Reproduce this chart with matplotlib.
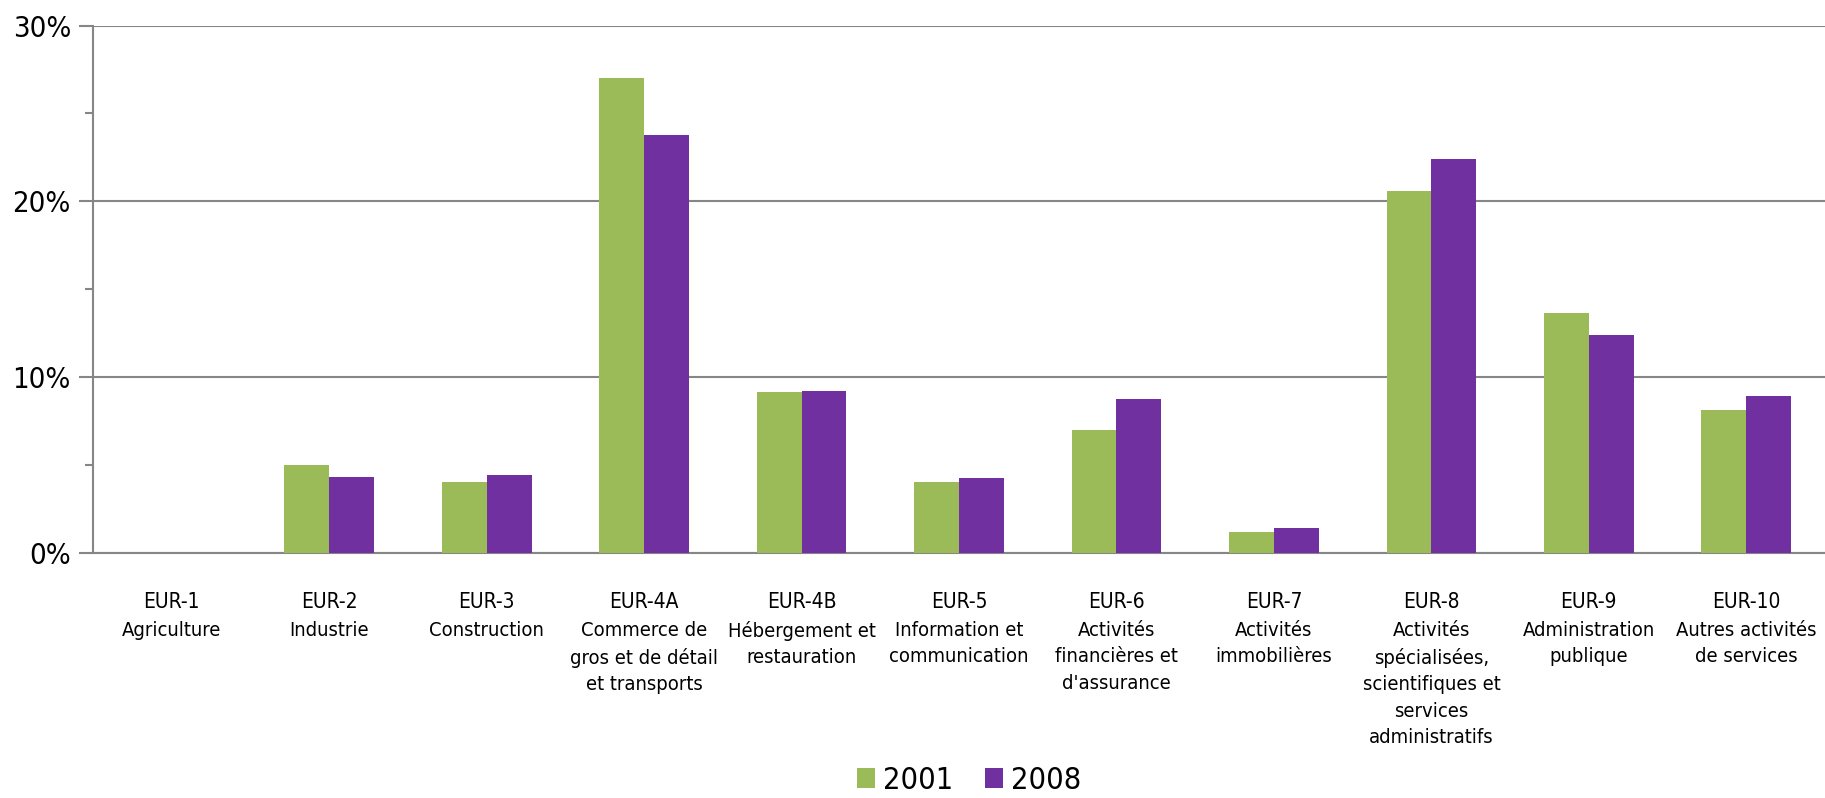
import matplotlib
matplotlib.use("Agg")
import matplotlib.pyplot as plt
import matplotlib.transforms as mtransforms
from matplotlib.ticker import MultipleLocator, FuncFormatter

codes = ["EUR-1", "EUR-2", "EUR-3", "EUR-4A", "EUR-4B", "EUR-5", "EUR-6",
         "EUR-7", "EUR-8", "EUR-9", "EUR-10"]
names = ["Agriculture", "Industrie", "Construction",
         "Commerce de\ngros et de détail\net transports",
         "Hébergement et\nrestauration",
         "Information et\ncommunication",
         "Activités\nfinancières et\nd'assurance",
         "Activités\nimmobilières",
         "Activités\nspécialisées,\nscientifiques et\nservices\nadministratifs",
         "Administration\npublique",
         "Autres activités\nde services"]
v2001 = [0, 5.0, 4.05, 27.0, 9.15, 4.05, 7.0, 1.2, 20.6, 13.65, 8.15]
v2008 = [0, 4.3, 4.45, 23.8, 9.2, 4.25, 8.75, 1.4, 22.4, 12.4, 8.95]

plt.rcParams['font.family'] = ['DejaVu Sans']
plt.rcParams['font.stretch'] = 'condensed'

fig = plt.figure(figsize=(18.25, 7.98), dpi=100)
ax = fig.add_axes([0.051, 0.307, 0.949, 0.661])

grey = "#868686"
w = 0.285
x = list(range(len(codes)))
ax.bar([i - w / 2 for i in x], v2001, w, color="#9BBB59", label="2001", zorder=3)
ax.bar([i + w / 2 for i in x], v2008, w, color="#7030A0", label="2008", zorder=3)

ax.set_xlim(-0.5, len(codes) - 0.5)
ax.set_ylim(0, 30)
ax.yaxis.set_major_locator(MultipleLocator(10))
ax.yaxis.set_minor_locator(MultipleLocator(5))
ax.yaxis.set_major_formatter(FuncFormatter(lambda v, p: f"{v:.0f}%"))
ax.grid(axis="y", color=grey, linewidth=1.5, zorder=0)
ax.tick_params(axis="y", which="both", direction="out", color=grey, width=1.5,
               labelsize=21, pad=6)
ax.tick_params(axis="y", which="major", length=10)
ax.tick_params(axis="y", which="minor", length=6)
ax.tick_params(axis="x", length=0, labelsize=15, pad=28)
ax.set_xticks(x)
ax.set_xticklabels(codes)

for s in ["top", "right"]:
    ax.spines[s].set_visible(False)
for s in ["left", "bottom"]:
    ax.spines[s].set_color(grey)
    ax.spines[s].set_linewidth(1.5)

trans = mtransforms.blended_transform_factory(ax.transData, ax.transAxes)
for i, n in enumerate(names):
    ax.text(i, -0.128, n, transform=trans, ha="center", va="top",
            fontsize=14.5, linespacing=1.5)

fig.legend(*ax.get_legend_handles_labels(), loc="lower center",
           bbox_to_anchor=(0.531, 0.004), ncol=2, frameon=False,
           fontsize=22, handlelength=0.6, handleheight=0.6, handletextpad=0.26,
           columnspacing=1.05, borderpad=0, borderaxespad=0)

fig.savefig("out.png", dpi=100)
